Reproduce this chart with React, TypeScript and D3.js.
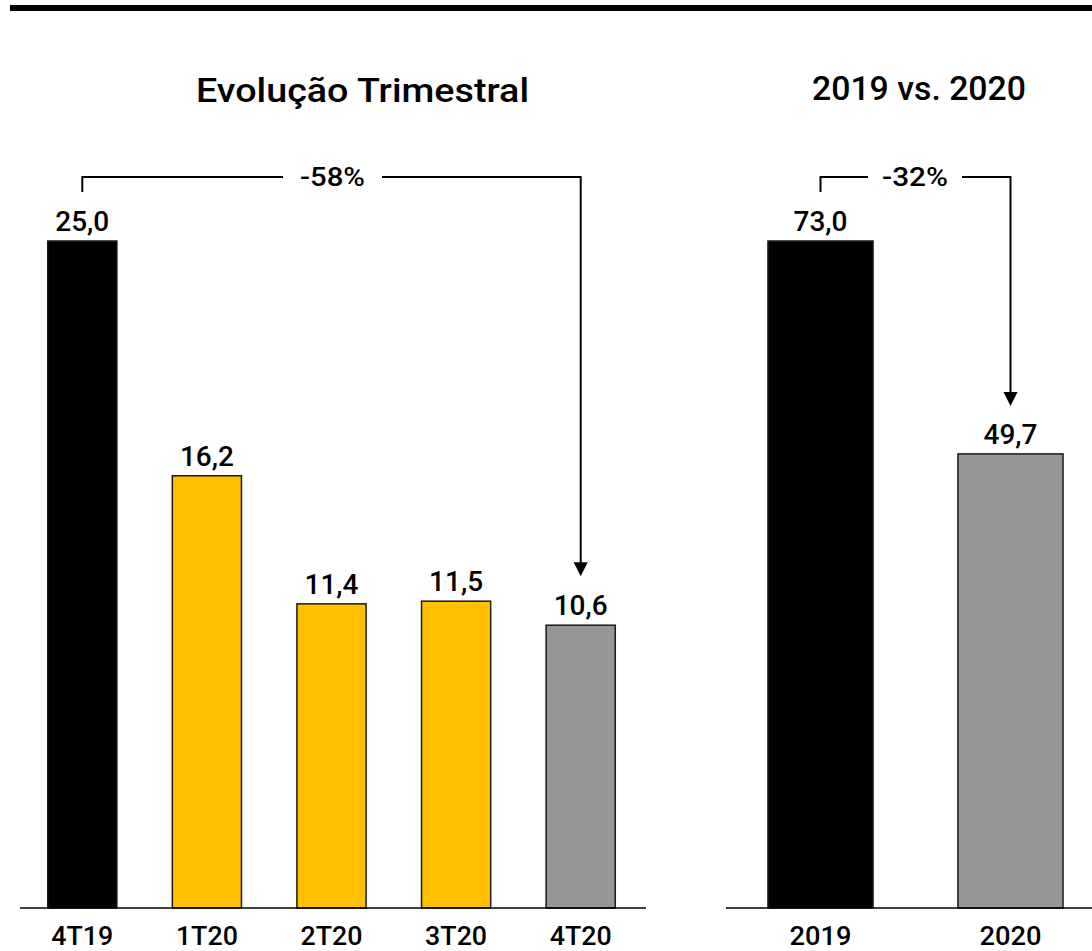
import React from "react";
import * as d3 from "d3";

const quarters = ["4T19", "1T20", "2T20", "3T20", "4T20"];
const quarterValues = [25.0, 16.2, 11.4, 11.5, 10.6];
const quarterColors = ["#000000", "#FFC000", "#FFC000", "#FFC000", "#969696"];
const years = ["2019", "2020"];
const yearValues = [73.0, 49.7];
const yearColors = ["#000000", "#969696"];
const quarterChange = "-58%";
const yearChange = "-32%";

const W = 1092;
const H = 951;
const FONT = "Roboto, 'DejaVu Sans', sans-serif";
const fmt = (v: number) => v.toFixed(1).replace(".", ",");

export default function App() {
  const baseY = 908;
  const topY = 241;
  const xq = d3.scaleBand<string>().domain(quarters).range([20, 643]).paddingInner(0.445).paddingOuter(0.2225);
  const yq = d3.scaleLinear().domain([0, d3.max(quarterValues)!]).range([baseY, topY]);
  const xy = d3.scaleBand<string>().domain(years).range([725.5, 1105.5]).paddingInner(0.447).paddingOuter(0.2235);
  const yy = d3.scaleLinear().domain([0, d3.max(yearValues)!]).range([baseY, topY]);

  const bracketY = 177;

  const renderBracket = (
    x1: number,
    x2: number,
    yStart: number,
    yEnd: number,
    label: string,
    gapL: number,
    gapR: number,
    labelW: number
  ) => {
    const tipY = yEnd;
    const headH = 14;
    const headW = 7;
    const mid = (gapL + gapR) / 2;
    return (
      <g>
        <path
          d={`M${x1},${yStart} V${bracketY} H${gapL}`}
          fill="none"
          stroke="#000"
          strokeWidth={2}
        />
        <path
          d={`M${gapR},${bracketY} H${x2} V${tipY - headH + 1}`}
          fill="none"
          stroke="#000"
          strokeWidth={2}
        />
        <path d={`M${x2 - headW},${tipY - headH} L${x2 + headW},${tipY - headH} L${x2},${tipY} Z`} fill="#000" />
        <text
          x={mid}
          y={bracketY + 9}
          textAnchor="middle"
          fontSize={25}
          fontWeight={500}
          fontFamily={FONT}
          fill="#000"
          textLength={labelW}
          lengthAdjust="spacingAndGlyphs"
        >
          {label}
        </text>
      </g>
    );
  };

  return (
    <svg width={W} height={H} style={{ position: "absolute", left: 0, top: 0, background: "#fff" }}>
      <rect x={10} y={5} width={W - 10} height={6} fill="#000" />

      <text
        x={362.5}
        y={102}
        textAnchor="middle"
        fontSize={34}
        fontWeight={500}
        fontFamily={FONT}
        fill="#000"
        textLength={333}
        lengthAdjust="spacingAndGlyphs"
      >
        Evolução Trimestral
      </text>
      <text
        x={919}
        y={100}
        textAnchor="middle"
        fontSize={34}
        fontWeight={500}
        fontFamily={FONT}
        fill="#000"
        textLength={214}
        lengthAdjust="spacingAndGlyphs"
      >
        2019 vs. 2020
      </text>

      {/* Left panel */}
      {quarters.map((q, i) => (
        <g key={q}>
          <rect
            x={xq(q)!}
            y={yq(quarterValues[i])}
            width={xq.bandwidth()}
            height={baseY - yq(quarterValues[i])}
            fill={quarterColors[i]}
            stroke="#1a1a1a"
            strokeWidth={1.5}
          />
          <text
            x={xq(q)! + xq.bandwidth() / 2}
            y={yq(quarterValues[i]) - 10}
            textAnchor="middle"
            fontSize={28}
            fontWeight={500}
            fontFamily={FONT}
            fill="#000"
          >
            {fmt(quarterValues[i])}
          </text>
          <text
            x={xq(q)! + xq.bandwidth() / 2}
            y={945}
            textAnchor="middle"
            fontSize={26}
            fontWeight={500}
            fontFamily={FONT}
            fill="#000"
            textLength={62}
            lengthAdjust="spacingAndGlyphs"
          >
            {q}
          </text>
        </g>
      ))}
      <line x1={20} x2={646} y1={baseY} y2={baseY} stroke="#000" strokeWidth={1.5} />

      {/* Right panel */}
      {years.map((yv, i) => (
        <g key={yv}>
          <rect
            x={xy(yv)!}
            y={yy(yearValues[i])}
            width={xy.bandwidth()}
            height={baseY - yy(yearValues[i])}
            fill={yearColors[i]}
            stroke="#1a1a1a"
            strokeWidth={1.5}
          />
          <text
            x={xy(yv)! + xy.bandwidth() / 2}
            y={yy(yearValues[i]) - 10}
            textAnchor="middle"
            fontSize={28}
            fontWeight={500}
            fontFamily={FONT}
            fill="#000"
          >
            {fmt(yearValues[i])}
          </text>
          <text
            x={xy(yv)! + xy.bandwidth() / 2}
            y={945}
            textAnchor="middle"
            fontSize={26}
            fontWeight={500}
            fontFamily={FONT}
            fill="#000"
            textLength={62}
            lengthAdjust="spacingAndGlyphs"
          >
            {yv}
          </text>
        </g>
      ))}
      <line x1={726} x2={W} y1={baseY} y2={baseY} stroke="#000" strokeWidth={1.5} />

      {renderBracket(
        xq("4T19")! + xq.bandwidth() / 2,
        xq("4T20")! + xq.bandwidth() / 2,
        192,
        yq(quarterValues[4]) - 49,
        quarterChange,
        283,
        382,
        65
      )}
      {renderBracket(
        xy("2019")! + xy.bandwidth() / 2,
        xy("2020")! + xy.bandwidth() / 2,
        192,
        yy(yearValues[1]) - 48,
        yearChange,
        868,
        962,
        66
      )}
    </svg>
  );
}
